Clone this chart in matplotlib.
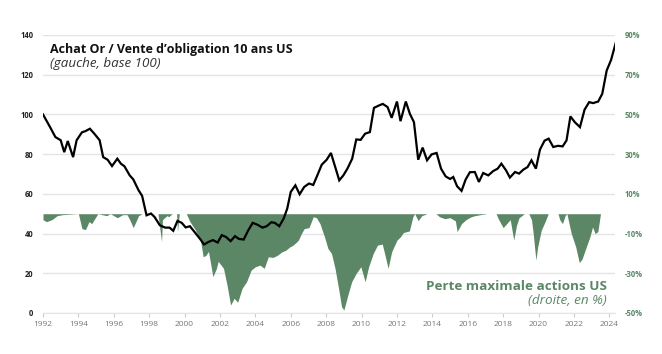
import matplotlib
matplotlib.use("Agg")
import matplotlib.pyplot as plt

plt.rcParams["font.family"] = ["Open Sans", "DejaVu Sans"]

# Achat Or / Vente obligation 10 ans US (base 100), left axis
gold_years = [1992.0, 1992.4, 1992.7, 1993.0, 1993.2, 1993.4, 1993.7, 1993.9, 1994.2, 1994.4,
              1994.65, 1994.9, 1995.2, 1995.4, 1995.65, 1995.9, 1996.2, 1996.4, 1996.6, 1996.9,
              1997.1, 1997.4, 1997.6, 1997.85, 1998.1, 1998.3, 1998.6, 1998.9, 1999.15, 1999.36,
              1999.6, 1999.84, 2000.06, 2000.3, 2000.6, 2000.9, 2001.1, 2001.35, 2001.6, 2001.87,
              2002.1, 2002.34, 2002.6, 2002.85, 2003.07, 2003.34, 2003.6, 2003.85, 2004.13, 2004.4,
              2004.64, 2004.9, 2005.1, 2005.35, 2005.6, 2005.8, 2006.0, 2006.26, 2006.5, 2006.76,
              2007.03, 2007.27, 2007.5, 2007.75, 2008.03, 2008.27, 2008.5, 2008.74, 2008.97, 2009.2,
              2009.47, 2009.7, 2009.95, 2010.2, 2010.47, 2010.7, 2010.98, 2011.2, 2011.47, 2011.7,
              2012.0, 2012.2, 2012.5, 2012.73, 2012.96, 2013.2, 2013.45, 2013.7, 2013.96, 2014.24,
              2014.49, 2014.75, 2015.0, 2015.18, 2015.4, 2015.65, 2015.88, 2016.12, 2016.4, 2016.63,
              2016.87, 2017.16, 2017.44, 2017.69, 2017.9, 2018.16, 2018.38, 2018.67, 2018.9, 2019.14,
              2019.38, 2019.6, 2019.85, 2020.08, 2020.34, 2020.57, 2020.83, 2021.1, 2021.36, 2021.58,
              2021.8, 2022.05, 2022.34, 2022.6, 2022.86, 2023.08, 2023.37, 2023.6, 2023.85, 2024.1,
              2024.37]
gold_values = [100, 93.6, 88.6, 87, 81, 86.6, 78.5, 87, 91, 91.6,
               92.8, 90.3, 87, 78.5, 77.2, 74, 77.7, 75.2, 73.9, 69.3,
               67.3, 61.8, 59, 49.2, 50.1, 48.4, 44.2, 43, 43, 41.4,
               46.4, 45.4, 43.1, 43.7, 40.4, 37, 34.5, 35.8, 36.7, 35.5,
               39.2, 38.3, 36.2, 38.7, 37.3, 37, 41.7, 45.4, 44.4, 43,
               43.7, 45.7, 45.4, 43.7, 47.6, 52.6, 61, 64.3, 59.8, 63.5,
               65.2, 64.5, 69.3, 74.7, 77.2, 80.6, 73.9, 66.8, 69.3, 72.7,
               77.7, 87.4, 87.2, 90.3, 91.1, 103.3, 104.5, 105.3, 103.7, 98.3,
               106.5, 96.6, 106.5, 100.3, 96.1, 77.2, 83.3, 76.9, 79.9, 80.6,
               72.7, 68.8, 67.5, 68.5, 63.8, 61.5, 67.2, 70.9, 71, 66,
               70.5, 69.3, 71.5, 72.7, 75.2, 71.9, 68.2, 71, 70.2, 72.2,
               73.5, 76.9, 72.7, 82.3, 86.8, 87.8, 83.6, 84.2, 83.9, 86.9,
               99, 96.1, 93.6, 102.4, 106.2, 105.7, 106.5, 110.4, 122.1, 127.5,
               136.3]

# Perte maximale actions US (%), right axis
dd_years = [1992.0, 1992.2, 1992.5, 1992.8, 1993.1, 1994.0, 1994.2, 1994.4, 1994.6, 1994.75,
            1995.1, 1995.6, 1995.8, 1996.2, 1996.5, 1996.75, 1996.9, 1997.1, 1997.4, 1997.6,
            1998.5, 1998.55, 1998.7, 1998.75, 1999.0, 1999.1, 1999.3, 1999.55, 1999.6, 1999.7,
            2000.1, 2000.3, 2000.6, 2000.9, 2001.05, 2001.2, 2001.35, 2001.6, 2001.8, 2001.9,
            2002.2, 2002.4, 2002.6, 2002.8, 2003.0, 2003.25, 2003.5, 2003.76, 2004.0, 2004.26,
            2004.5, 2004.73, 2005.0, 2005.25, 2005.5, 2005.7, 2005.95, 2006.1, 2006.3, 2006.43,
            2006.6, 2006.76, 2007.03, 2007.27, 2007.45, 2007.65, 2007.9, 2008.1, 2008.3, 2008.5,
            2008.7, 2008.87, 2009.0, 2009.2, 2009.44, 2009.7, 2009.96, 2010.2, 2010.4, 2010.66,
            2010.9, 2011.17, 2011.3, 2011.5, 2011.7, 2012.0, 2012.2, 2012.36, 2012.55, 2012.7,
            2012.9, 2013.0, 2013.2, 2013.4, 2013.7, 2014.2, 2014.4, 2014.7, 2015.0, 2015.3,
            2015.4, 2015.65, 2015.9, 2016.2, 2016.4, 2016.7, 2017.1, 2017.6, 2017.75, 2018.0,
            2018.25, 2018.4, 2018.6, 2018.75, 2018.9, 2019.2, 2019.45, 2019.6, 2019.7, 2019.85,
            2019.95, 2020.15, 2020.36, 2020.55, 2021.1, 2021.2, 2021.35, 2021.5, 2021.6, 2021.85,
            2022.1, 2022.3, 2022.45, 2022.7, 2022.9, 2023.05, 2023.2, 2023.35, 2023.5, 2024.35]
dd_values = [-3, -4, -3, -1, -0.5, 0, -7.5, -8, -4, -5,
             0, -1, 0, -2, -0.5, -0.5, -3, -7, -1, 0,
             0, -4, -14, -3, -1, -1.5, 0, 0, -9, 0,
             0, -4, -8, -13.5, -21.7, -21, -19, -31.7, -27.5, -24,
             -27.5, -36, -46, -42.6, -44.6, -37.6, -34.3, -28.4, -26.7, -25.9,
             -27.5, -21.7, -22, -20.9, -19.2, -18.5, -16.7, -16, -14.5, -13.3,
             -10, -7.5, -7, -1.5, -2, -5, -11.5, -17.5, -20, -27.5,
             -37.6, -46.8, -48.5, -41.8, -34.3, -30, -26.7, -34.3, -26.7, -20,
             -15.8, -15.3, -20, -27.5, -19.2, -13.3, -11.6, -9.5, -9, -8.7,
             -1.5, 0, -3.5, -1, 0, 0, -1.5, -2.5, -2, -3.6,
             -9, -5, -3, -1.5, -1, -0.5, 0, 0, -3, -7,
             -4.5, -3, -13.3, -6, -2, 0, 0, -3, -10, -23.4,
             -16.7, -8.4, -4.2, 0, 0, -3, -5, -1, 0, -10,
             -16.7, -24.6, -23, -16.7, -11.7, -6.7, -10, -9, 0, 0]

x_ticks = list(range(1992, 2025, 2))
left_ticks = list(range(0, 141, 20))
right_ticks = list(range(-50, 91, 20))

GREEN = "#5b8766"
GRID = "#e4e4e4"

fig = plt.figure(figsize=(6.62, 3.54), dpi=100)
fig.patch.set_facecolor("white")
ax = fig.add_axes([43 / 662, 1 - 313 / 354, 572 / 662, 278 / 354])
ax2 = ax.twinx()

# drawdown area on right axis, below the gold line
ax2.fill_between(dd_years, dd_values, 0, color=GREEN, lw=0, zorder=2)
ax2.set_ylim(-50, 90)
ax2.set_yticks(right_ticks)
ax2.set_yticklabels([f"{t}%" for t in right_ticks])
ax2.grid(axis="y", color=GRID, lw=1, zorder=0)
ax2.set_axisbelow(True)
ax2.tick_params(axis="y", length=0, pad=7, labelsize=5.5, labelcolor=GREEN)
for lab in ax2.get_yticklabels():
    lab.set_fontweight("bold")

ax.set_zorder(ax2.get_zorder() + 1)
ax.patch.set_visible(False)
ax.plot(gold_years, gold_values, color="black", lw=1.6, solid_joinstyle="miter", zorder=3)
ax.set_ylim(0, 140)
ax.set_xlim(1992, 2024.32)
ax.set_yticks(left_ticks)
ax.tick_params(axis="y", length=0, pad=7, labelsize=5.5, labelcolor="#222222")
for lab in ax.get_yticklabels():
    lab.set_fontweight("bold")
ax.set_xticks(x_ticks)
ax.tick_params(axis="x", length=3, width=0.8, color="#cccccc", pad=3,
               labelsize=6, labelcolor="#777777")

for a in (ax, ax2):
    for s in ("top", "left", "right"):
        a.spines[s].set_visible(False)
    a.spines["bottom"].set_color(GRID)
ax2.spines["bottom"].set_visible(False)

fig.text(50 / 662, 1 - 50 / 354, "Achat Or / Vente d\u2019obligation 10 ans US",
         fontsize=9, fontweight="bold", color="#111111", ha="left", va="center")
fig.text(50 / 662, 1 - 64 / 354, "(gauche, base 100)",
         fontsize=9.6, style="italic", color="#333333", ha="left", va="center")
fig.text(607 / 662, 1 - 287 / 354, "Perte maximale actions US",
         fontsize=9.7, fontweight="bold", color=GREEN, ha="right", va="center")
fig.text(607 / 662, 1 - 301 / 354, "(droite, en %)",
         fontsize=9.7, style="italic", color=GREEN, ha="right", va="center")

fig.savefig("out.png", dpi=100, facecolor="white")
plt.close(fig)
